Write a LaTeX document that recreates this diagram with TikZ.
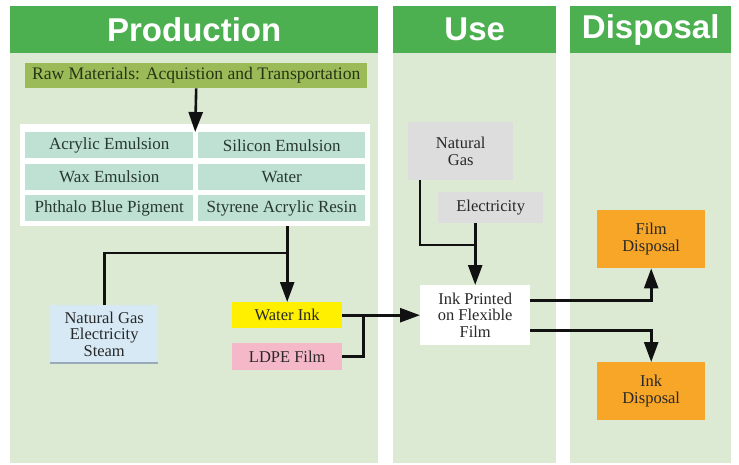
\documentclass[tikz,border=0pt]{standalone}
\usepackage{fontspec}
\setmainfont{Liberation Serif}
\newfontfamily\bodyfont{Liberation Serif}
\newfontfamily\headfont{Liberation Sans}
\usetikzlibrary{arrows.meta,calc}

\definecolor{headgreen}{RGB}{76,176,80}
\definecolor{bodygreen}{RGB}{220,234,212}
\definecolor{rawolive}{RGB}{155,187,89}
\definecolor{cellteal}{RGB}{190,225,212}
\definecolor{gasblue}{RGB}{214,233,245}
\definecolor{gasshade}{RGB}{150,170,185}
\definecolor{inkyellow}{RGB}{255,240,0}
\definecolor{filmpink}{RGB}{245,184,200}
\definecolor{usegray}{RGB}{221,221,221}
\definecolor{wasteorange}{RGB}{247,166,40}
\definecolor{txt}{RGB}{40,40,40}
\definecolor{rawtxt}{RGB}{40,52,20}
\definecolor{celltxt}{RGB}{40,55,50}
\definecolor{linec}{RGB}{17,17,17}

\begin{document}
\begin{tikzpicture}[x=1pt,y=-1pt,
  head/.style={fill=headgreen, text=white, anchor=north west, inner sep=0pt,
    minimum height=47pt, font=\headfont\bfseries\fontsize{33}{36}\selectfont},
  box/.style={draw=none, inner sep=1pt, anchor=north west, align=center,
    text=txt, font=\bodyfont\fontsize{16.5}{16.5}\selectfont},
  cell/.style={box, fill=cellteal, minimum width=168pt, minimum height=26pt,
    text=celltxt, font=\bodyfont\fontsize{17}{19}\selectfont},
  ln/.style={line width=2.6pt, draw=linec},
  arr/.style={ln, -{Triangle[length=20pt,width=14pt]}}
]
\useasboundingbox (0,0) rectangle (739,465);
\fill[white] (0,0) rectangle (739,465);

% column bodies
\fill[bodygreen] (10,53) rectangle (378,463);
\fill[bodygreen] (393,53) rectangle (556,463);
\fill[bodygreen] (570,53) rectangle (731,463);

% column headers
\node[head, minimum width=368pt] (hprod) at (10,6) {Production};
\node[head, minimum width=163pt] (huse)  at (393,6) {Use};
\node[head, minimum width=161pt] (hdisp) at (570,6) {Disposal};

% raw materials
\node[box, fill=rawolive, minimum width=342pt, minimum height=25pt,
  text=rawtxt, font=\bodyfont\fontsize{17.6}{19}\selectfont] (raw) at (25,63)
  {Raw Materials: Acquistion and Transportation};

% ingredient table
\node[box, fill=white, minimum width=350pt, minimum height=102pt] (panel) at (20,124) {};
\node[cell] (c11) at (25,132) {Acrylic Emulsion};
\node[cell, minimum width=167pt] (c12) at (198,132) {Silicon Emulsion};
\node[cell] (c21) at (25,164) {Wax Emulsion};
\node[cell, minimum width=167pt] (c22) at (198,164) {Water};
\node[cell] (c31) at (25,195) {Phthalo Blue Pigment};
\node[cell, minimum width=167pt] (c32) at (198,195) {Styrene Acrylic Resin};

% production inputs and products
\node[box, fill=gasblue, minimum width=108pt, minimum height=58pt] (ngs) at (50,305)
  {Natural Gas\\Electricity\\Steam};
\draw[line width=2pt, draw=gasshade] (ngs.south west) -- (ngs.south east);
\node[box, fill=inkyellow, minimum width=110pt, minimum height=26pt] (water) at (232,302) {Water Ink};
\node[box, fill=filmpink, minimum width=110pt, minimum height=27pt] (ldpe) at (232,343) {LDPE Film};

% use phase
\node[box, fill=usegray, minimum width=105pt, minimum height=58pt] (gasuse) at (408,122) {Natural\\Gas};
\node[box, fill=usegray, minimum width=105pt, minimum height=31pt] (elec) at (438,192) {Electricity};
\node[box, fill=white, minimum width=110pt, minimum height=60pt] (ink) at (420,285)
  {Ink Printed\\on Flexible\\Film};

% disposal
\node[box, fill=wasteorange, minimum width=108pt, minimum height=58pt] (film) at (597,210) {Film\\Disposal};
\node[box, fill=wasteorange, minimum width=108pt, minimum height=58pt] (inkd) at (597,362) {Ink\\Disposal};

% connectors
\draw[arr] (raw.south) -- ([yshift=-8pt]panel.north);
\draw[arr] (panel.south -| water.north) -- (water.north);
\draw[ln] (ngs.north) |- (water.north |- 0,253);
\draw[arr] (water.east) -- (ink.west);
\draw[ln] (ldpe.east) -| ($(water.east)+(21,0)$);
\draw[ln] ([xshift=12pt]gasuse.south west) |- (ink.north |- 0,245);
\draw[arr] (elec.south -| ink.north) -- (ink.north);
\draw[arr] ([yshift=15pt]ink.east) -| (film.south);
\draw[arr] ([yshift=-15pt]ink.east) -| (inkd.north);
\end{tikzpicture}
\end{document}
